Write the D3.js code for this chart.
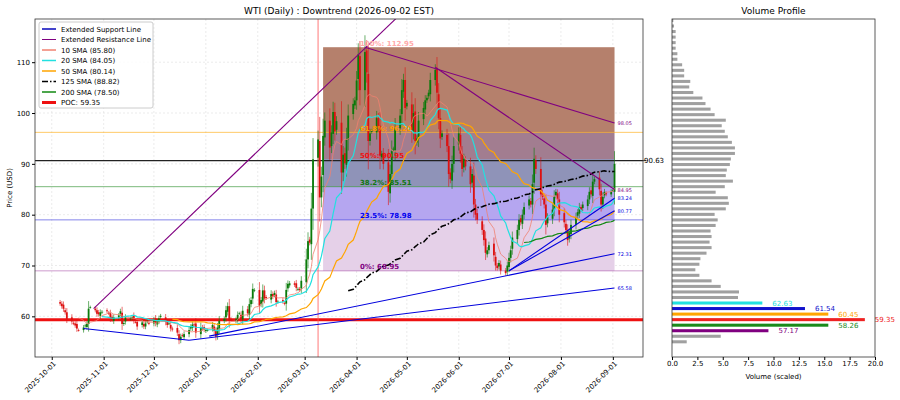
<!DOCTYPE html>
<html lang="en">
<head>
<meta charset="UTF-8"/>
<title>WTI Daily</title>
<script src="https://cdn.jsdelivr.net/npm/d3@7"></script>
<style>
  body { margin:0; background:#fff; font-family:"DejaVu Sans", sans-serif; }
  text { font-family:"DejaVu Sans", sans-serif; }
</style>
</head>
<body>
<svg id="chart" width="900" height="400"></svg>
<script>
// daily closes, trading days starting 2025-10-06
var closes = [
  62.5, 62.0, 61.5, 60.8, 59.5,   59.0, 58.6, 58.2, 57.6, 57.3,
  57.8, 58.2, 58.5, 61.5, 61.8,   61.2, 60.5, 60.4, 60.8, 60.9,
  61.0, 60.6, 59.6, 59.4, 59.8,   60.2, 61.0, 58.5, 58.7, 59.8,
  59.6, 59.8, 59.2, 58.9, 58.0,   58.8, 58.0, 58.6, 59.0, 58.6,
  59.3, 58.7, 59.0, 59.6, 60.1,   58.9, 58.3, 58.6, 57.6, 57.4,
  56.8, 55.3, 56.0, 56.2, 56.5,   57.3, 58.0, 58.4, 58.3, 56.8,
  57.9, 57.6, 57.4, 57.3, 57.3,   58.3, 57.1, 56.0, 57.8, 59.1,
  59.5, 61.2, 62.0, 59.2, 59.4,   59.4, 60.3, 60.6, 59.4, 61.1,
  60.6, 62.4, 63.2, 65.4, 65.2,   62.1, 63.2, 65.1, 63.5, 63.6,
  64.4, 63.9, 64.6, 62.8, 62.9,   62.9, 62.5, 65.2, 66.4, 66.5,
  66.2, 65.6, 65.4, 65.2, 67.0,   71.2, 74.8, 74.5, 81.2, 90.9,
  94.8, 83.4, 87.5, 95.5, 98.5,   93.2, 96.2, 100.2, 96.4, 98.4,
  88.3, 91.8, 90.1, 94.8, 99.5,   101.8, 102.5, 106.4, 111.5, 104.5,
  112.0, 108.0, 94.5, 96.0, 96.5, 99.0, 97.2, 91.6, 92.0, 90.0,
  84.5, 88.0, 92.5, 93.0, 97.0,   99.5, 104.5, 106.5, 101.0, 102.0,
  96.5, 100.0, 94.5, 95.0, 98.5,  101.0, 102.5, 103.0, 104.0, 106.5,
  108.5, 104.0, 99.0, 95.0, 96.0, 93.5, 88.0, 87.0, 90.0, 93.5,
  96.0, 92.0, 89.0, 91.0, 89.5,   86.0, 88.0, 82.0, 80.0, 79.0,
  77.0, 75.0, 72.5, 73.0, 74.0,   72.0, 70.0, 69.5, 70.5, 69.0,
  68.5, 70.0, 71.5, 73.0, 75.5,   77.0, 79.0, 78.5, 80.0, 81.5,
  83.0, 82.0, 86.0, 91.0, 89.0,   84.0, 83.5, 82.0, 78.0, 79.5,
  81.0, 83.5, 84.5, 83.0, 80.0,   78.5, 77.0, 75.0, 76.5, 78.0,
  79.5, 80.5, 81.5, 81.0, 82.0,   83.0, 84.5, 84.0, 86.5, 87.0,
  85.0, 82.0, 83.5, 84.5, 84.0,   84.5, 84.8, 90.0
];
var smaPeriods = [10, 20, 50, 125, 200];
var smaLabels = ["10 SMA (85.80)", "20 SMA (84.05)", "50 SMA (80.14)", "125 SMA (88.82)", "200 SMA (78.50)"];
var smaColors = ["#f08070", "#22e0e0", "#ffa500", "#000", "#118811"];

var fibLevels = [68.95, 78.98, 85.51, 90.95, 96.20, 112.95];
var fibLabels = ["0%: 68.95", "23.5%: 78.98", "38.2%: 85.51", "50%: 90.95", "61.8%: 96.20", "100%: 112.95"];
var fibColors = ["#800080", "#0000ee", "#117711", "#ee1111", "#ff9900", "#ffaaaa"];
var fibFills = ["#e5d0e8", "#b5a6f0", "#8f93b8", "#a27d90", "#b5806c"];

var poc = 59.35, lastPrice = 90.63;

// trend lines [startDate, startPrice, endDate, endPrice, colour, right label, extend]
var trendLines = [
  ["2025-10-26", 61.5, "2026-04-10", 114.0, "#800080", null, true],
  ["2026-04-06", 112.95, "2026-09-02", 98.05, "#800080", "98.05"],
  ["2026-05-18", 109.0, "2026-09-02", 84.95, "#800080", "84.95"],
  ["2025-10-20", 57.6, "2025-12-22", 55.3, "#0000dd", null],
  ["2025-12-22", 55.3, "2026-09-02", 65.58, "#0000dd", "65.58"],
  ["2026-01-03", 56.1, "2026-09-02", 72.31, "#0000dd", "72.31"],
  ["2026-07-01", 68.95, "2026-09-02", 80.77, "#0000dd", "80.77"],
  ["2026-07-01", 68.95, "2026-09-02", 83.24, "#0000dd", "83.24"]
];

// volume profile, bin prices from 54.99 upward by 1.09
var volBins = [1.45, 4.8, 9.5, 15.4, 19.0, 15.4, 13.1, 8.9, 6.5, 6.6, 4.8, 3.9, 2.7, 2.3, 2.7, 2.8,
  3.4, 3.9, 3.7, 3.9, 3.8, 4.3, 4.5, 4.2, 5.3, 5.6, 5.5, 4.3, 5.2, 6.0, 5.3, 5.4, 5.7, 5.8,
  6.2, 6.2, 5.9, 5.5, 5.2, 4.9, 5.3, 4.2, 3.8, 3.3, 3.0, 2.1, 1.7, 1.8, 1.2, 1.2, 1.0, 0.53,
  0.53, 0.36, 0.36, 0.36, 0.36, 0.2, 0.13];
var volLow = 54.99, volStep = 1.09;
var volHighlight = {2: "#800080", 3: "#1a8a1a", 4: "#ee2222", 5: "#ffa500", 6: "#1111cc", 7: "#22e0e0"};
var volHighlightLbl = {2: "57.17", 3: "58.26", 4: "59.35", 5: "60.45", 6: "61.54", 7: "62.63"};

var monthTicks = ["2025-10-01","2025-11-01","2025-12-01","2026-01-01","2026-02-01","2026-03-01",
  "2026-04-01","2026-05-01","2026-06-01","2026-07-01","2026-08-01","2026-09-01"];

var parse = d3.timeParse("%Y-%m-%d");
var dates = [];
var d = parse("2025-10-06");
while (dates.length < closes.length) {
  if (d.getDay() != 0 && d.getDay() != 6) dates.push(new Date(d));
  d = d3.timeDay.offset(d, 1);
}
var candles = closes.map(function(c, i) {
  var o = i == 0 ? c + 0.3 : closes[i-1] + (i % 3 - 1) * 0.3;
  var span = Math.abs(c - o);
  return {date: dates[i], o: o, c: c, h: Math.max(o, c) + 0.3 + span * 0.4, l: Math.min(o, c) - 0.3 - span * 0.4};
});

var svg = d3.select("#chart");
var L = 35, R = 643, T = 19, B = 357;
var x = d3.scaleTime().domain([parse("2025-09-21"), parse("2026-09-19")]).range([L, R]);
var y = d3.scaleLinear().domain([52, 118.5]).range([B, T]);

svg.append("defs").append("clipPath").attr("id", "clip")
  .append("rect").attr("x", L).attr("y", T).attr("width", R - L).attr("height", B - T);
var g = svg.append("g").attr("clip-path", "url(#clip)");

// grid
g.selectAll(".vg").data(monthTicks).enter().append("line")
  .attr("x1", function(t) { return x(parse(t)); }).attr("x2", function(t) { return x(parse(t)); })
  .attr("y1", T).attr("y2", B).attr("stroke", "#ddd").attr("stroke-dasharray", "2,2").attr("stroke-width", 0.6);
g.selectAll(".hg").data([60, 70, 80, 90, 100, 110]).enter().append("line")
  .attr("x1", L).attr("x2", R).attr("y1", y).attr("y2", y)
  .attr("stroke", "#ddd").attr("stroke-dasharray", "2,2").attr("stroke-width", 0.6);

// fib boxes
var fx0 = x(parse("2026-03-12")), fx1 = x(parse("2026-09-02"));
for (var i = 0; i < fibFills.length; i++) {
  g.append("rect").attr("x", fx0).attr("width", fx1 - fx0)
    .attr("y", y(fibLevels[i+1])).attr("height", y(fibLevels[i]) - y(fibLevels[i+1]))
    .attr("fill", fibFills[i]);
}
// full width level lines
[[96.2, "#ffa500", 0.6], [85.51, "#228822", 0.6], [78.98, "#3333dd", 0.6], [68.95, "#aa55aa", 0.6], [lastPrice, "#222", 1.1], [poc, "#ee1111", 3]]
  .forEach(function(l) {
    g.append("line").attr("x1", L).attr("x2", R).attr("y1", y(l[0])).attr("y2", y(l[0]))
      .attr("stroke", l[1]).attr("stroke-width", l[2]);
  });
var rv = x(parse("2026-03-09"));
g.append("line").attr("x1", rv).attr("x2", rv).attr("y1", T).attr("y2", B).attr("stroke", "#ff5555").attr("stroke-width", 0.8);

// candles
var cw = 1.8;
g.selectAll(".wick").data(candles).enter().append("line")
  .attr("x1", function(c) { return x(c.date); }).attr("x2", function(c) { return x(c.date); })
  .attr("y1", function(c) { return y(c.h); }).attr("y2", function(c) { return y(c.l); })
  .attr("stroke", function(c) { return c.c >= c.o ? "#0a7a0a" : "#dd1111"; }).attr("stroke-width", 0.6);
g.selectAll(".body").data(candles).enter().append("rect")
  .attr("x", function(c) { return x(c.date) - cw/2; }).attr("width", cw)
  .attr("y", function(c) { return y(Math.max(c.o, c.c)); })
  .attr("height", function(c) { return Math.max(0.8, Math.abs(y(c.o) - y(c.c))); })
  .attr("fill", function(c) { return c.c >= c.o ? "#0a7a0a" : "#dd1111"; });

// SMAs
smaPeriods.forEach(function(p, k) {
  var pts = [];
  for (var i = p - 1; i < closes.length; i++) {
    pts.push([dates[i], d3.mean(closes.slice(i - p + 1, i + 1))]);
  }
  g.append("path").datum(pts)
    .attr("d", d3.line().x(function(q) { return x(q[0]); }).y(function(q) { return y(q[1]); }))
    .attr("fill", "none").attr("stroke", smaColors[k])
    .attr("stroke-width", p == 125 ? 1.6 : (p == 10 ? 0.8 : 1.2))
    .attr("stroke-dasharray", p == 125 ? "6,2,1.5,2" : null);
});

// trend lines
trendLines.forEach(function(t) {
  var x0 = x(parse(t[0])), y0 = y(t[1]), x1 = x(parse(t[2])), y1 = y(t[3]);
  if (t[6]) { x1 = x0 + (x1 - x0) * 2; y1 = y0 + (y1 - y0) * 2; }
  g.append("line").attr("x1", x0).attr("y1", y0).attr("x2", x1).attr("y2", y1)
    .attr("stroke", t[4]).attr("stroke-width", 1.1);
  if (t[5]) svg.append("text").attr("x", x(parse(t[2])) + 3).attr("y", y(t[3]) + 2)
    .attr("font-size", 5).attr("fill", t[4]).text(t[5]);
});

// fib labels
fibLevels.forEach(function(v, i) {
  svg.append("text").attr("x", x(parse("2026-04-03"))).attr("y", y(v) - 1.5)
    .attr("font-size", 7).attr("font-weight", "bold").attr("fill", fibColors[i]).text(fibLabels[i]);
});

// frame + axes
svg.append("rect").attr("x", L).attr("y", T).attr("width", R - L).attr("height", B - T)
  .attr("fill", "none").attr("stroke", "#333").attr("stroke-width", 0.8);
var ya = svg.append("g").attr("transform", "translate(" + L + ",0)")
  .call(d3.axisLeft(y).tickValues([60, 70, 80, 90, 100, 110]).tickSize(3).tickPadding(2));
ya.select(".domain").remove();
ya.selectAll("text").attr("font-size", 7);
var xa = svg.append("g").attr("transform", "translate(0," + B + ")")
  .call(d3.axisBottom(x).tickValues(monthTicks.map(parse)).tickFormat(d3.timeFormat("%Y-%m-%d")).tickSize(3));
xa.select(".domain").remove();
xa.selectAll("text").attr("font-size", 7).attr("text-anchor", "end")
  .attr("transform", "rotate(-45)").attr("dx", "-0.3em").attr("dy", "0.3em");
svg.append("text").attr("transform", "translate(12," + ((T + B) / 2) + ") rotate(-90)")
  .attr("text-anchor", "middle").attr("font-size", 7).text("Price (USD)");
svg.append("text").attr("x", (L + R) / 2).attr("y", 14).attr("text-anchor", "middle")
  .attr("font-size", 9).text("WTI (Daily) : Downtrend (2026-09-02 EST)");
svg.append("line").attr("x1", R).attr("x2", R + 3).attr("y1", y(lastPrice)).attr("y2", y(lastPrice)).attr("stroke", "#333");
svg.append("text").attr("x", R + 1).attr("y", y(lastPrice) + 2.5).attr("font-size", 7).text("90.63");

// legend
var lg = svg.append("g").attr("transform", "translate(39,22)");
lg.append("rect").attr("width", 114).attr("height", 86).attr("fill", "#fff").attr("fill-opacity", 0.85)
  .attr("stroke", "#ccc").attr("rx", 2);
var legItems = [["Extended Support Line", "#4444cc", 2, null], ["Extended Resistance Line", "#800080", 1, null]];
smaLabels.forEach(function(s, k) { legItems.push([s, smaColors[k], 1.5, smaPeriods[k] == 125 ? "6,2,1.5,2" : null]); });
legItems.push(["POC: 59.35", "#ee1111", 3, null]);
legItems.forEach(function(it, k) {
  var yy = 7 + k * 10.5;
  lg.append("line").attr("x1", 3).attr("x2", 17).attr("y1", yy).attr("y2", yy)
    .attr("stroke", it[1]).attr("stroke-width", it[2]).attr("stroke-dasharray", it[3]);
  lg.append("text").attr("x", 22).attr("y", yy + 2.5).attr("font-size", 7).text(it[0]);
});

// volume profile
var VL = 672, VR = 875;
var vx = d3.scaleLinear().domain([0, 20]).range([VL, VR]);
var bh = y(volLow) - y(volLow + volStep * 0.55);
volBins.forEach(function(v, i) {
  var p = volLow + i * volStep;
  var col = volHighlight[i] || "#a0a0a0";
  svg.append("rect").attr("x", VL).attr("y", y(p) - bh / 2).attr("width", vx(v) - VL).attr("height", bh).attr("fill", col);
  if (volHighlightLbl[i]) svg.append("text").attr("x", vx(v) + 10).attr("y", y(p) + 2.5)
    .attr("font-size", 7).attr("fill", col).text(volHighlightLbl[i]);
});
svg.append("rect").attr("x", VL).attr("y", T).attr("width", VR - VL).attr("height", B - T)
  .attr("fill", "none").attr("stroke", "#333").attr("stroke-width", 0.8);
var va = svg.append("g").attr("transform", "translate(0," + B + ")")
  .call(d3.axisBottom(vx).tickValues(d3.range(0, 20.1, 2.5)).tickFormat(d3.format(".1f")).tickSize(3).tickPadding(1));
va.select(".domain").remove();
va.selectAll("text").attr("font-size", 7);
svg.append("text").attr("x", (VL + VR) / 2).attr("y", 379).attr("text-anchor", "middle").attr("font-size", 7).text("Volume (scaled)");
svg.append("text").attr("x", (VL + VR) / 2).attr("y", 14).attr("text-anchor", "middle").attr("font-size", 9).text("Volume Profile");
</script>
</body>
</html>
